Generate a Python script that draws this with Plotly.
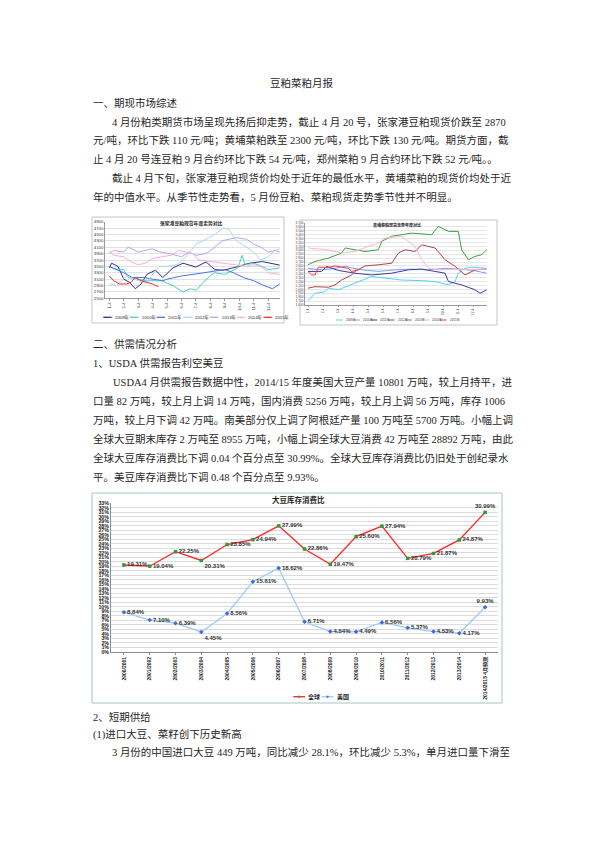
import plotly.graph_objects as go

W, H = 595, 842

# ---------------- main chart: 大豆库存消费比 (%) ----------------
seasons = ["2000/2001", "2001/2002", "2002/2003", "2003/2004", "2004/2005",
           "2005/2006", "2006/2007", "2007/2008", "2008/2009", "2009/2010",
           "2010/2011", "2011/2012", "2012/2013", "2013/2014", "2014/2015 4月预测"]
global_ratio = [19.31, 19.04, 22.25, 20.31, 23.85, 24.94, 27.99, 22.86, 19.47,
                25.60, 27.94, 20.79, 21.87, 24.87, 30.99]
us_ratio = [8.84, 7.10, 6.39, 4.45, 8.56, 15.61, 18.62, 6.71, 4.54, 4.49,
            6.56, 5.37, 4.53, 4.17, 9.93]

# ---------------- small seasonal charts ----------------
month_labels = ["1-4", "2-4", "3-4", "4-4", "5-4", "6-4",
                "7-4", "8-4", "9-4", "10-4", "11-4", "12-4"]
year_names = ["2009年", "2010年", "2011年", "2012年", "2013年", "2014年", "2015年"]

# 张家港豆粕现货 (month position, 元/吨)
zjg_2009 = [(1.0, 3450), (1.15, 3600), (1.6, 3500), (2.0, 3100), (2.4, 3000), (2.8, 2800),
            (3.2, 2950), (3.6, 3250), (4.2, 3380), (4.7, 3150), (5.4, 3450), (6.1, 3600),
            (7.0, 3480), (7.7, 3640), (8.3, 3400), (8.9, 3380), (9.8, 3480), (10.7, 3600),
            (11.6, 3650), (12.8, 3540)]
zjg_2010 = [(1.0, 3480), (1.3, 3430), (2.0, 3400), (2.3, 3150), (3.0, 3100), (3.6, 3050),
            (4.6, 3050), (5.4, 2900), (6.1, 2700), (6.6, 2800), (7.0, 2750), (7.5, 3000),
            (8.0, 3200), (8.3, 3300), (9.0, 3250), (9.9, 3450), (10.2, 3850), (10.4, 3550),
            (11.0, 3600), (11.6, 3500), (12.0, 3400), (12.8, 3450)]
zjg_2011 = [(1.0, 3500), (1.5, 3400), (2.0, 3300), (2.6, 3150), (3.4, 3150), (4.0, 3100),
            (4.7, 3050), (5.0, 3100), (6.0, 3200), (6.8, 3250), (7.5, 3300), (8.3, 3350),
            (9.0, 3400), (9.6, 3300), (10.3, 3150), (11.0, 3050), (11.7, 2900), (12.3, 2800),
            (12.8, 2950)]
zjg_2012 = [(1.0, 2950), (1.5, 2900), (2.2, 3200), (3.0, 3050), (3.6, 3000), (4.0, 3250),
            (4.5, 3500), (5.0, 3500), (5.7, 3550), (6.3, 3800), (7.0, 4200), (7.5, 4300),
            (8.3, 4500), (8.9, 4700), (9.3, 4650), (9.8, 4300), (10.5, 4100), (11.0, 3950),
            (11.5, 3700), (12.0, 3800), (12.5, 4000), (12.8, 4050)]
zjg_2013 = [(1.0, 3900), (1.3, 4000), (2.0, 3950), (2.3, 4100), (3.0, 3950), (3.5, 4000),
            (4.0, 4050), (4.5, 3950), (5.2, 3900), (6.0, 3800), (6.5, 3950), (7.0, 3850),
            (7.7, 3900), (8.3, 4100), (8.8, 4300), (9.3, 4350), (9.8, 4400), (10.5, 4350),
            (11.0, 4200), (11.5, 4100), (12.0, 3950), (12.5, 4000), (12.8, 3950)]
zjg_2014 = [(1.0, 4000), (1.3, 3850), (2.0, 3800), (2.5, 3650), (3.0, 3550), (3.5, 3600),
            (4.0, 3750), (4.7, 3800), (5.3, 3850), (5.8, 4000), (6.3, 3950), (6.8, 3900),
            (7.2, 3700), (8.0, 3650), (9.0, 3600), (9.8, 3550), (10.5, 3500), (11.0, 3550),
            (11.5, 3500), (12.0, 3300), (12.8, 3250)]
zjg_2015 = [(1.0, 3200), (1.3, 3050), (1.7, 2950), (2.2, 2950), (2.5, 3000), (2.8, 3150),
            (3.2, 3050), (3.6, 3000), (4.0, 2950), (4.2, 2900), (4.4, 2870)]

# 黄埔菜粕现货 (month position, 元/吨)
hp_2009 = [(1.0, 1710), (1.47, 1900), (2.13, 1940), (2.36, 2030), (3.02, 1990), (3.8, 2115),
           (4.58, 2240), (5.24, 2330), (6.13, 2290), (7.24, 2240), (8.58, 2225), (9.47, 2200),
           (10.36, 2115), (10.8, 2200), (11.02, 2415), (11.47, 2540), (11.91, 2570), (12.91, 2540)]
hp_2010 = [(1.0, 2540), (1.91, 2500), (2.8, 2540), (3.47, 2590), (4.58, 2500), (5.69, 2460),
           (6.8, 2500), (7.91, 2520), (9.02, 2500), (10.13, 2540), (11.24, 2520), (12.13, 2475),
           (12.91, 2415)]
hp_2011 = [(1.0, 2460), (1.91, 2460), (2.24, 2590), (3.02, 2485), (4.13, 2415), (5.24, 2370),
           (6.58, 2415), (7.69, 2500), (8.58, 2520), (9.47, 2460), (10.13, 2415), (10.36, 2200),
           (11.24, 2115), (12.13, 1990), (12.47, 1900), (12.91, 1990)]
hp_2012 = [(1.0, 2030), (1.47, 2070), (2.36, 2055), (2.8, 2115), (3.24, 2240), (3.91, 2370),
           (4.13, 2460), (4.8, 2600), (5.69, 2630), (6.58, 2670), (7.02, 2930), (7.47, 3015),
           (8.13, 2970), (8.58, 3140), (9.47, 3060), (10.13, 2760), (10.8, 2590), (11.47, 2370),
           (12.13, 2500), (12.91, 2520)]
hp_2013 = [(1.0, 2630), (1.47, 2715), (2.36, 2800), (3.24, 2930), (3.47, 3060), (4.13, 3015),
           (4.8, 2970), (5.69, 3015), (5.91, 3230), (6.58, 3360), (7.91, 3440), (9.24, 3400),
           (9.69, 3615), (10.36, 3485), (11.02, 3485), (11.24, 3015), (11.69, 2760), (12.13, 2845),
           (12.58, 2890), (12.91, 3015)]
hp_2014 = [(1.0, 3060), (2.36, 3015), (3.24, 2930), (4.13, 2970), (5.02, 3100), (5.69, 3185),
           (6.13, 3315), (7.24, 3360), (7.69, 3230), (8.13, 3100), (8.58, 2760), (9.02, 2540),
           (9.69, 2500), (10.8, 2520), (11.69, 2500), (12.91, 2520)]
hp_2015 = [(1.0, 2460), (1.24, 2370), (1.47, 2370), (1.69, 2570), (2.36, 2560), (2.8, 2600),
           (3.24, 2570), (3.69, 2540), (3.91, 2460), (4.36, 2500)]

zjg_series = [zjg_2009, zjg_2010, zjg_2011, zjg_2012, zjg_2013, zjg_2014, zjg_2015]
zjg_colors = ["#2e2e8c", "#48d2c4", "#4a6ff0", "#a9d6fb", "#b6a6ee", "#ffa9d6", "#f02828"]
hp_series = [hp_2009, hp_2010, hp_2011, hp_2012, hp_2013, hp_2014, hp_2015]
hp_colors = ["#4fd2f5", "#7f9ff2", "#3a3aa6", "#b24444", "#3fa33f", "#ffb3d6", "#ff3535"]

TEXT_FONT = "Liberation Serif, Noto Sans CJK SC, serif"
CHART_FONT = "Liberation Sans, Noto Sans CJK SC, sans-serif"


def px(x):
    return x / W


def py(y):
    return 1 - y / H


fig = go.Figure()

# seasonal charts
for pts, col in zip(zjg_series, zjg_colors):
    fig.add_trace(go.Scatter(x=[p[0] for p in pts], y=[p[1] for p in pts], mode="lines",
                             line=dict(color=col, width=1), xaxis="x", yaxis="y",
                             showlegend=False, hoverinfo="skip"))
for pts, col in zip(hp_series, hp_colors):
    fig.add_trace(go.Scatter(x=[p[0] for p in pts], y=[p[1] for p in pts], mode="lines",
                             line=dict(color=col, width=1), xaxis="x2", yaxis="y2",
                             showlegend=False, hoverinfo="skip"))

# main chart
g_pos = ["middle right"] * len(global_ratio)
g_pos[3] = "bottom right"
g_pos[-1] = "top center"
u_pos = ["middle right"] * len(us_ratio)
u_pos[3] = "bottom right"
u_pos[-1] = "top center"

fig.add_trace(go.Scatter(
    x=seasons, y=global_ratio, mode="lines+markers+text", name="全球",
    line=dict(color="#ff2222", width=1.3),
    marker=dict(color="#2a9a3a", size=3.5, symbol="square"),
    text=[f"{v:.2f}%" for v in global_ratio], textposition=g_pos,
    textfont=dict(size=6, color="#333333", family=CHART_FONT, weight="bold"),
    xaxis="x3", yaxis="y3", showlegend=False))
fig.add_trace(go.Scatter(
    x=seasons, y=us_ratio, mode="lines+markers+text", name="美国",
    line=dict(color="#9ccbf6", width=1.3),
    marker=dict(color="#3f66e6", size=3.5, symbol="diamond"),
    text=[f"{v:.2f}%" for v in us_ratio], textposition=u_pos,
    textfont=dict(size=6, color="#333333", family=CHART_FONT, weight="bold"),
    xaxis="x3", yaxis="y3", showlegend=False))

small_tick = dict(size=4.3, color="#333333", family=CHART_FONT)
tiny_tick = dict(size=3.2, color="#444444", family=CHART_FONT)

fig.update_layout(
    width=W, height=H,
    margin=dict(l=0, r=0, t=0, b=0),
    paper_bgcolor="white", plot_bgcolor="white",
    font=dict(family=TEXT_FONT, color="#222222"),
    showlegend=False,
    xaxis=dict(domain=[px(105), px(280)], anchor="y", range=[0.7, 12.82],
               tickvals=list(range(1, 13)), ticktext=month_labels, tickangle=-90,
               tickfont=small_tick, showgrid=False, showline=True, linecolor="#999999",
               linewidth=0.6, ticks="outside", ticklen=1.5, tickcolor="#999999",
               zeroline=False, automargin=False),
    yaxis=dict(domain=[py(298.3), py(221.7)], anchor="x", range=[2500, 4900],
               tick0=2500, dtick=200, tickfont=small_tick, showgrid=True,
               gridcolor="#e2e2e2", gridwidth=0.5, showline=True, linecolor="#999999",
               linewidth=0.6, zeroline=False, automargin=False),
    xaxis2=dict(domain=[px(305), px(487)], anchor="y2", range=[0.8, 12.93],
                tickvals=list(range(1, 13)), ticktext=month_labels, tickangle=-90,
                tickfont=tiny_tick, showgrid=False, showline=True, linecolor="#999999",
                linewidth=0.6, ticks="outside", ticklen=1.5, tickcolor="#999999",
                zeroline=False, automargin=False),
    yaxis2=dict(domain=[py(305), py(223)], anchor="x2", range=[1600, 3700],
                tick0=1600, dtick=100, tickformat=",", tickfont=tiny_tick, showgrid=True,
                gridcolor="#e6e6e6", gridwidth=0.5, showline=True, linecolor="#999999",
                linewidth=0.6, zeroline=False, automargin=False),
    xaxis3=dict(domain=[px(111), px(498)], anchor="y3", type="category",
                range=[-0.5, len(seasons) - 0.5], tickangle=-90,
                tickfont=dict(size=5, color="#222222", family=CHART_FONT, weight="bold"),
                showgrid=False, showline=True, linecolor="#8c8c8c", linewidth=0.8,
                ticks="outside", ticklen=2, tickcolor="#8c8c8c", zeroline=False,
                automargin=False),
    yaxis3=dict(domain=[py(652), py(503.3)], anchor="x3", range=[0, 33],
                tick0=0, dtick=1, ticksuffix="%",
                tickfont=dict(size=5.3, color="#222222", family=CHART_FONT, weight="bold"),
                showgrid=True, gridcolor="#dcdcdc", gridwidth=0.6, showline=True,
                linecolor="#8c8c8c", linewidth=0.8, zeroline=False, automargin=False),
)

# chart frames
for (x0, y0, x1, y1, col) in [(92, 217, 284, 323, "#c4c4c4"),
                              (300, 220, 497, 325, "#c4c4c4"),
                              (92, 493, 502, 703, "#a8c3c6")]:
    fig.add_shape(type="rect", xref="paper", yref="paper", x0=px(x0), x1=px(x1),
                  y0=py(y1), y1=py(y0), line=dict(color=col, width=1))


def note(text, x, y, size, anchor="left", family=TEXT_FONT, color="#222222", bold=False):
    fig.add_annotation(text=text, x=px(x), y=py(y), xref="paper", yref="paper",
                       xanchor=anchor, yanchor="middle", showarrow=False,
                       font=dict(size=size, family=family, color=color,
                                 weight="bold" if bold else "normal"))


# small chart titles
note("张家港豆粕现货年度走势对比", 191.7, 223.3, 4.8, "center", CHART_FONT, "#222222", True)
note("黄埔菜粕现货走势年度对比", 396.7, 225, 4.0, "center", CHART_FONT, "#222222", True)
note("大豆库存消费比", 298, 500, 7.5, "center", CHART_FONT, "#222222", True)

# small chart legends
for i, (name, col) in enumerate(zip(year_names, zjg_colors)):
    x0 = 103.3 + i * 26.7
    fig.add_shape(type="line", xref="paper", yref="paper", x0=px(x0), x1=px(x0 + 8.3),
                  y0=py(317.3), y1=py(317.3), line=dict(color=col, width=1.3))
    note(name, x0 + 9.5, 317.3, 4.3, "left", CHART_FONT, "#222222")
for i, (name, col) in enumerate(zip(year_names, hp_colors)):
    x0 = 336 + i * 17.3
    fig.add_shape(type="line", xref="paper", yref="paper", x0=px(x0), x1=px(x0 + 6.7),
                  y0=py(320), y1=py(320), line=dict(color=col, width=1))
    note(name, x0 + 7.8, 320, 3.0, "left", CHART_FONT, "#333333")

# main chart legend
for (x0, line_col, mk_col, label) in [(293.3, "#ff2222", "#2a9a3a", "全球"),
                                      (321.7, "#9ccbf6", "#3f66e6", "美国")]:
    fig.add_shape(type="line", xref="paper", yref="paper", x0=px(x0), x1=px(x0 + 11.7),
                  y0=py(696.7), y1=py(696.7), line=dict(color=line_col, width=1.3))
    fig.add_shape(type="rect", xref="paper", yref="paper", x0=px(x0 + 4.8), x1=px(x0 + 6.8),
                  y0=py(697.7), y1=py(695.7), line=dict(width=0), fillcolor=mk_col)
    note(label, x0 + 13.2, 696.7, 6, "left", CHART_FONT, "#222222", True)

# body text
body = [
    ("豆粕菜粕月报", 302, 83, "center"),
    ("一、期现市场综述", 91, 103, "left"),
    ("4 月份粕类期货市场呈现先扬后抑走势，截止 4 月 20 号，张家港豆粕现货价跌至 2870", 110, 122, "left"),
    ("元/吨，环比下跌 110 元/吨；黄埔菜粕跌至 2300 元/吨，环比下跌 130 元/吨。期货方面，截", 91, 140.5, "left"),
    ("止 4 月 20 号连豆粕 9 月合约环比下跌 54 元/吨，郑州菜粕 9 月合约环比下跌 52 元/吨。。", 91, 159, "left"),
    ("截止 4 月下旬，张家港豆粕现货价均处于近年的最低水平，黄埔菜粕的现货价均处于近", 110, 178, "left"),
    ("年的中值水平。从季节性走势看，5 月份豆粕、菜粕现货走势季节性并不明显。", 91, 197, "left"),
    ("二、供需情况分析", 91, 344, "left"),
    ("1、USDA 供需报告利空美豆", 91, 363, "left"),
    ("USDA4 月供需报告数据中性，2014/15 年度美国大豆产量 10801 万吨，较上月持平，进", 111, 382, "left"),
    ("口量 82 万吨，较上月上调 14 万吨，国内消费 5256 万吨，较上月上调 56 万吨，库存 1006", 91, 401, "left"),
    ("万吨，较上月下调 42 万吨。南美部分仅上调了阿根廷产量 100 万吨至 5700 万吨。小幅上调", 91, 420, "left"),
    ("全球大豆期末库存 2 万吨至 8955 万吨，小幅上调全球大豆消费 42 万吨至 28892 万吨，由此", 91, 439, "left"),
    ("全球大豆库存消费比下调 0.04 个百分点至 30.99%。全球大豆库存消费比仍旧处于创纪录水", 91, 458, "left"),
    ("平。美豆库存消费比下调 0.48 个百分点至 9.93%。", 91, 477, "left"),
    ("2、短期供给", 91, 717, "left"),
    ("(1)进口大豆、菜籽创下历史新高", 91, 734, "left"),
    ("3 月份的中国进口大豆 449 万吨，同比减少 28.1%，环比减少 5.3%，单月进口量下滑至", 110, 752, "left"),
]
for text, x, y, anchor in body:
    note(text, x, y, 10.5, anchor, TEXT_FONT, "#262626")

fig.write_html("out.html", config={"displayModeBar": False},
               post_script="document.body.style.margin='0';")
